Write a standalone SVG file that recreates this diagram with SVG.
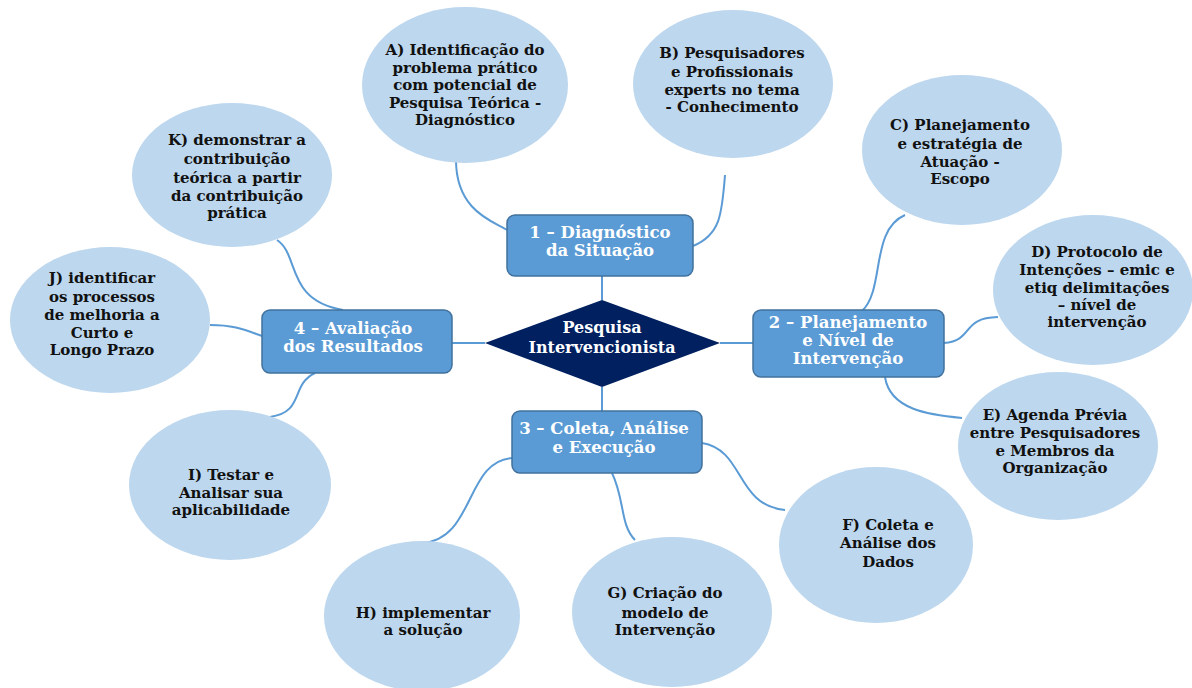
<svg xmlns="http://www.w3.org/2000/svg" width="1192" height="688" viewBox="0 0 1192 688">
<style>
.con{fill:none;stroke:#5b9bd5;stroke-width:2}
.cir{fill:#bdd7ee}
.box{fill:#5b9bd5;stroke:#41719c;stroke-width:1.5}
.ct{font-family:"DejaVu Serif","Liberation Serif",serif;font-weight:bold;font-size:15px;fill:#111;text-anchor:middle}
.bt{font-family:"DejaVu Serif","Liberation Serif",serif;font-weight:bold;font-size:16.5px;fill:#fff;text-anchor:middle}
.dt{font-family:"DejaVu Serif","Liberation Serif",serif;font-weight:bold;font-size:16px;fill:#fff;text-anchor:middle}
</style>
<rect width="1192" height="688" fill="#fff"/>
<g id="connectors">
<path class="con" d="M456 160 C456 212 495 222 507 230"/>
<path class="con" d="M693 246 C720 235 722 215 725 175"/>
<path class="con" d="M602 276 L602 300"/>
<path class="con" d="M602 387 L602 411"/>
<path class="con" d="M720 343 L753 343"/>
<path class="con" d="M452 343 L485 343"/>
<path class="con" d="M862 311 C885 290 870 230 905 215"/>
<path class="con" d="M944 343 C975 340 960 318 998 317"/>
<path class="con" d="M885 377 C890 410 930 415 962 418"/>
<path class="con" d="M702 443 C745 450 735 505 785 510"/>
<path class="con" d="M612 473 C625 500 620 525 635 540"/>
<path class="con" d="M513 458 C465 460 475 540 422 543"/>
<path class="con" d="M315 373 C290 385 305 412 270 417"/>
<path class="con" d="M210 325 C235 325 245 330 262 336"/>
<path class="con" d="M277 240 C300 255 285 300 343 310"/>
</g>
<g id="nodeA"><ellipse class="cir" cx="465" cy="85" rx="103" ry="78"/>
<text class="ct" x="465" y="55">A) Identificação do</text><text class="ct" x="465" y="73">problema prático</text><text class="ct" x="465" y="90">com potencial de</text><text class="ct" x="465" y="108">Pesquisa Teórica -</text><text class="ct" x="465" y="125">Diagnóstico</text></g>
<g id="nodeB"><ellipse class="cir" cx="733" cy="84" rx="100" ry="74"/>
<text class="ct" x="732" y="58">B) Pesquisadores</text><text class="ct" x="732" y="77">e Profissionais</text><text class="ct" x="732" y="95">experts no tema</text><text class="ct" x="732" y="112">- Conhecimento</text></g>
<g id="nodeC"><ellipse class="cir" cx="962" cy="150" rx="100" ry="75"/>
<text class="ct" x="960" y="130">C) Planejamento</text><text class="ct" x="960" y="149">e estratégia de</text><text class="ct" x="960" y="167">Atuação -</text><text class="ct" x="960" y="184">Escopo</text></g>
<g id="nodeD"><ellipse class="cir" cx="1093" cy="290" rx="100" ry="75"/>
<text class="ct" x="1097" y="257">D) Protocolo de</text><text class="ct" x="1097" y="275">Intenções – emic e</text><text class="ct" x="1097" y="293">etiq delimitações</text><text class="ct" x="1097" y="310">– nível de</text><text class="ct" x="1097" y="327">intervenção</text></g>
<g id="nodeE"><ellipse class="cir" cx="1058" cy="446" rx="100" ry="74"/>
<text class="ct" x="1055" y="420">E) Agenda Prévia</text><text class="ct" x="1055" y="438">entre Pesquisadores</text><text class="ct" x="1055" y="456">e Membros da</text><text class="ct" x="1055" y="473">Organização</text></g>
<g id="nodeF"><ellipse class="cir" cx="876" cy="545" rx="97" ry="78"/>
<text class="ct" x="888" y="530">F) Coleta e</text><text class="ct" x="888" y="548">Análise dos</text><text class="ct" x="888" y="567">Dados</text></g>
<g id="nodeG"><ellipse class="cir" cx="672" cy="612" rx="100" ry="75"/>
<text class="ct" x="665" y="598">G) Criação do</text><text class="ct" x="665" y="618">modelo de</text><text class="ct" x="665" y="635">Intervenção</text></g>
<g id="nodeH"><ellipse class="cir" cx="422" cy="616" rx="98" ry="75"/>
<text class="ct" x="423" y="618">H) implementar</text><text class="ct" x="423" y="635">a solução</text></g>
<g id="nodeI"><ellipse class="cir" cx="230" cy="485" rx="101" ry="75"/>
<text class="ct" x="231" y="480">I) Testar e</text><text class="ct" x="231" y="498">Analisar sua</text><text class="ct" x="231" y="515">aplicabilidade</text></g>
<g id="nodeJ"><ellipse class="cir" cx="110" cy="320" rx="100" ry="73"/>
<text class="ct" x="102" y="283">J) identificar</text><text class="ct" x="102" y="302">os processos</text><text class="ct" x="102" y="320">de melhoria a</text><text class="ct" x="102" y="338">Curto e</text><text class="ct" x="102" y="355">Longo Prazo</text></g>
<g id="nodeK"><ellipse class="cir" cx="232" cy="175" rx="100" ry="72"/>
<text class="ct" x="237" y="145">K) demonstrar a</text><text class="ct" x="237" y="164">contribuição</text><text class="ct" x="237" y="183">teórica a partir</text><text class="ct" x="237" y="201">da contribuição</text><text class="ct" x="237" y="218">prática</text></g>
<g id="box1"><rect class="box" x="507" y="215" width="186" height="61" rx="8"/>
<text class="bt" x="600" y="238">1 – Diagnóstico</text><text class="bt" x="600" y="256">da Situação</text></g>
<g id="box2"><rect class="box" x="753" y="310" width="191" height="67" rx="8"/>
<text class="bt" x="848" y="328">2 – Planejamento</text><text class="bt" x="848" y="346">e Nível de</text><text class="bt" x="848" y="364">Intervenção</text></g>
<g id="box3"><rect class="box" x="512" y="411" width="190" height="62" rx="8"/>
<text class="bt" x="604" y="434">3 – Coleta, Análise</text><text class="bt" x="604" y="453">e Execução</text></g>
<g id="box4"><rect class="box" x="262" y="310" width="190" height="63" rx="8"/>
<text class="bt" x="353" y="334">4 – Avaliação</text><text class="bt" x="353" y="352">dos Resultados</text></g>
<g id="center"><polygon points="485,343 602,300 720,343 602,387" fill="#002060"/>
<text class="dt" x="602" y="333">Pesquisa</text><text class="dt" x="602" y="353">Intervencionista</text></g>
</svg>
